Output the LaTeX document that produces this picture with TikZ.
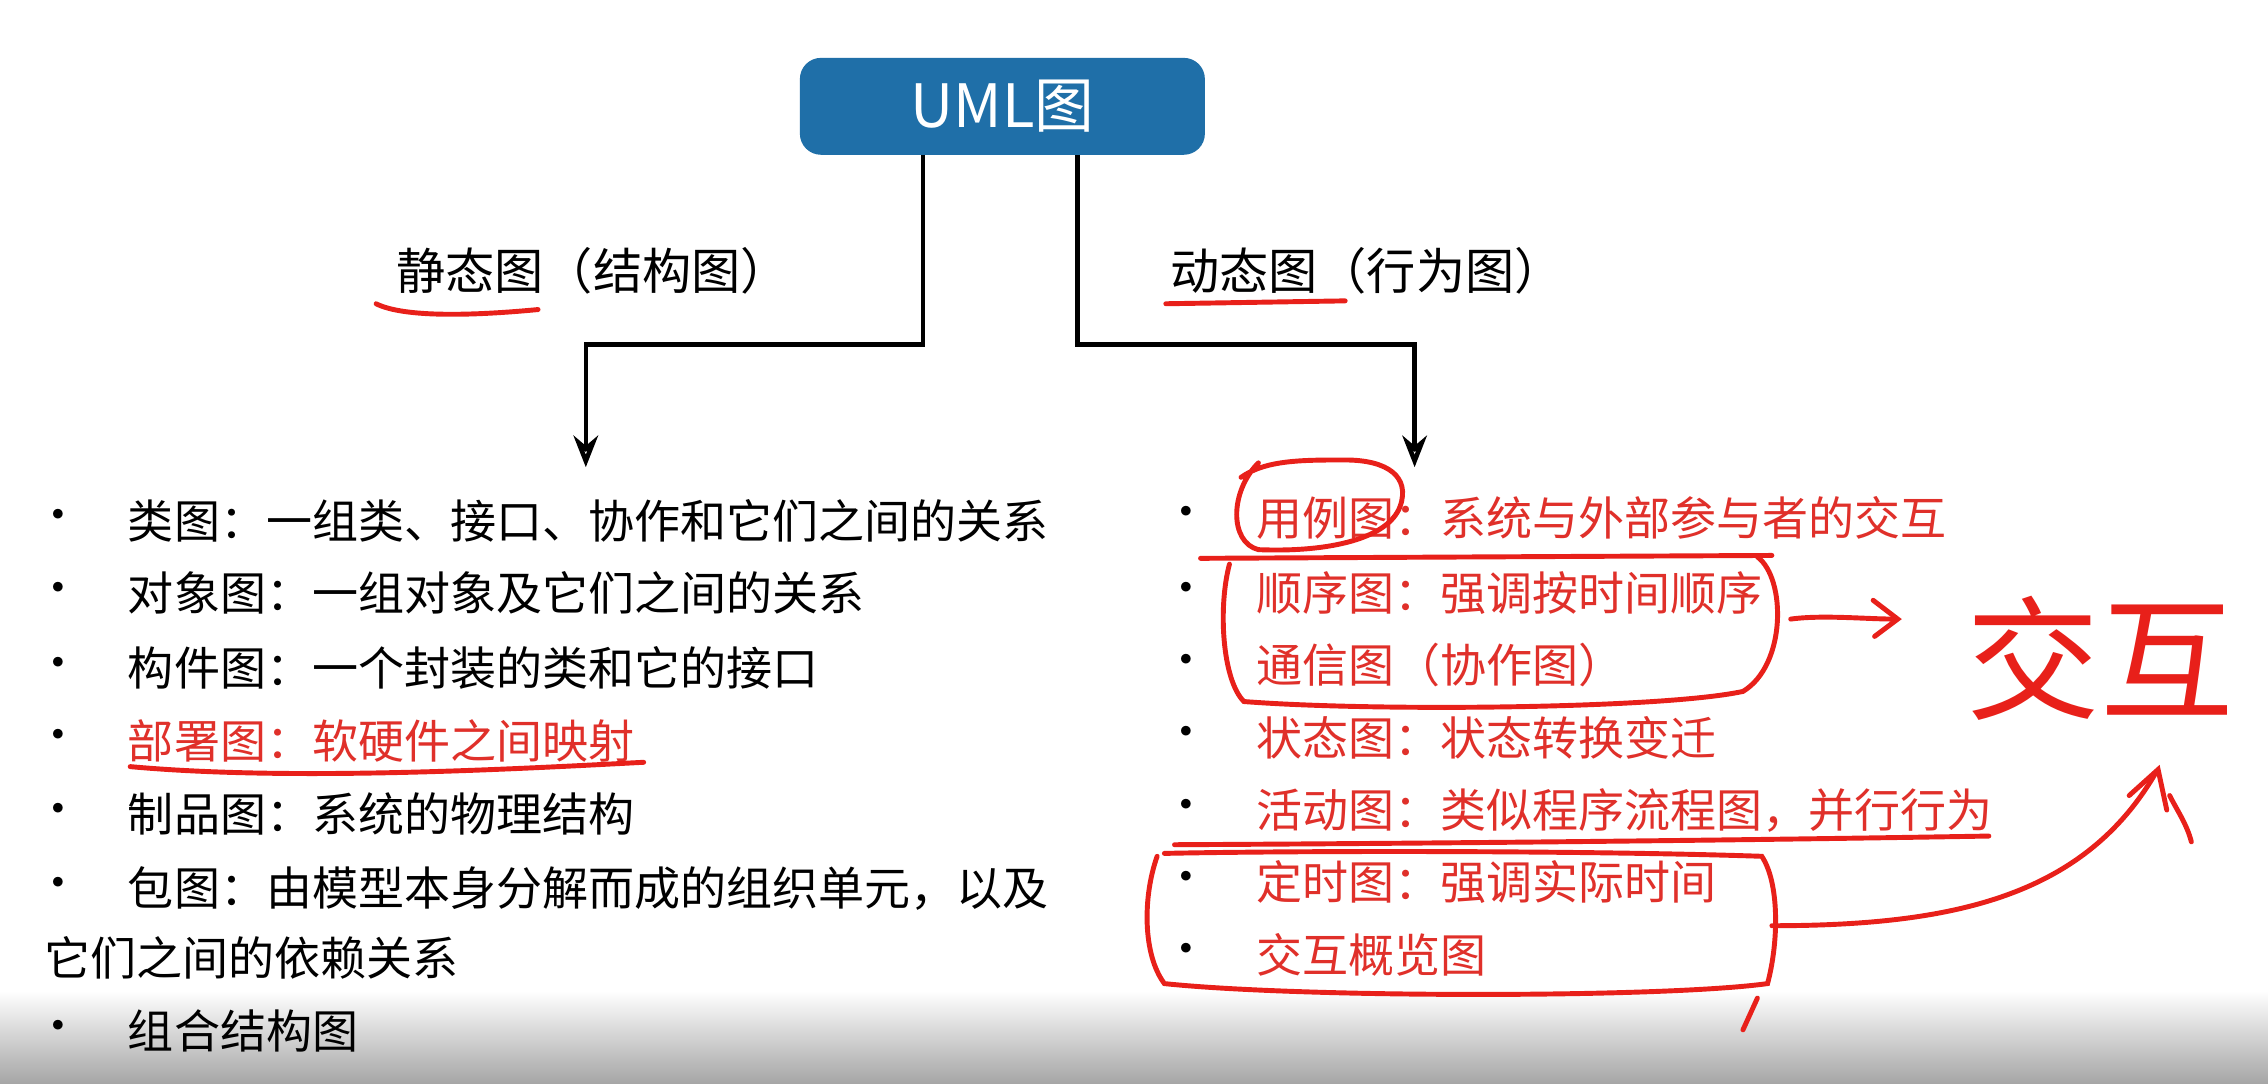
\documentclass[tikz,border=0pt]{standalone}
\usepackage{fontspec}
\setmainfont{Noto Sans CJK SC}
\usetikzlibrary{arrows.meta}
\definecolor{umlblue}{HTML}{1F6FA8}
\definecolor{annred}{HTML}{E8201A}
\definecolor{txtred}{HTML}{E0302A}
\tikzset{
  item/.style={anchor=west,font=\fontsize{13.1pt}{16pt}\selectfont,inner sep=0pt},
  bul/.style={anchor=center,font=\fontsize{13pt}{16pt}\selectfont,inner sep=0pt},
  head/.style={font=\fontsize{14pt}{16pt}\selectfont,inner sep=0pt},
  conn/.style={line width=1.3pt},
  ann/.style={annred,line width=1.4pt,line cap=round}
}
\begin{document}
\begin{tikzpicture}[x=0.014464cm,y=-0.014464cm]
\useasboundingbox (0,0) rectangle (1568,749);
\fill[white] (0,0) rectangle (1568,749);
\shade[top color=white,bottom color=black!35] (0,685) rectangle (1568,749);
\node[fill=umlblue,rounded corners=6pt,minimum width=280*0.014464cm,minimum height=67*0.014464cm,text=white,font=\fontsize{17pt}{20pt}\selectfont] (uml) at (693,73.5) {UML图};
\coordinate (l1) at (638,107); \coordinate (l2) at (638,238); \coordinate (l3) at (405,238); \coordinate (la) at (405,323);
\coordinate (r1) at (745,107); \coordinate (r2) at (745,238); \coordinate (r3) at (978,238); \coordinate (ra) at (978,323);
\draw[conn,-{Stealth[length=9pt,width=7pt,open]}] (l1)--(l2)--(l3)--(la);
\draw[conn,-{Stealth[length=9pt,width=7pt,open]}] (r1)--(r2)--(r3)--(ra);
\node[head] (st) at (410,187) {静态图（结构图）};
\node[head] (dy) at (945,187) {动态图（行为图）};
% left list
\foreach \y/\t/\c in {360/类图：一组类、接口、协作和它们之间的关系/black,410/对象图：一组对象及它们之间的关系/black,462/构件图：一个封装的类和它的接口/black,512/部署图：软硬件之间映射/txtred,563/制品图：系统的物理结构/black,614/包图：由模型本身分解而成的组织单元，以及/black}{
  \node[bul] at (40,\y) {•};
  \node[item,text=\c] at (88,\y) {\t};
}
\node[item] (lc) at (30,662) {它们之间的依赖关系};
\node[bul] at (40,713) {•};
\node[item] (ld) at (88,713) {组合结构图};
% right list
\foreach \y/\t in {358/用例图：系统与外部参与者的交互,410/顺序图：强调按时间顺序,460/通信图（协作图）,510/状态图：状态转换变迁,560/活动图：类似程序流程图，并行行为,610/定时图：强调实际时间,660/交互概览图}{
  \node[bul] at (820,\y) {•};
  \node[item,text=txtred] at (868,\y) {\t};
}
% annotations
\draw[ann] (260,210) .. controls (280,220) and (330,218) .. (372,214);
\draw[ann] (806,210) -- (930,208);
\draw[ann] (90,530) .. controls (200,540) and (350,532) .. (445,527);
\draw[ann] (870,320) .. controls (850,340) and (850,375) .. (870,380) .. controls (920,382) and (960,372) .. (968,350) .. controls (975,330) and (960,318) .. (930,318) .. controls (900,318) and (875,318) .. (858,330);
\draw[ann] (830,386) -- (1225,384);
\draw[ann] (850,390) .. controls (842,420) and (845,470) .. (860,485) .. controls (950,492) and (1150,490) .. (1205,478) .. controls (1235,460) and (1235,400) .. (1215,385);
\draw[ann] (1238,428) .. controls (1260,425) and (1290,428) .. (1310,428);
\draw[ann] (1295,415) -- (1312,428) -- (1296,440);
\draw[ann] (812,584) .. controls (1000,583) and (1200,581) .. (1375,578);
\draw[ann] (800,592) .. controls (790,620) and (790,660) .. (805,680) .. controls (900,690) and (1150,690) .. (1222,680) .. controls (1230,650) and (1230,610) .. (1218,592) .. controls (1100,588) and (900,588) .. (805,590);
\draw[ann] (1215,690) -- (1205,712);
\draw[ann] (1225,640) .. controls (1350,640) and (1440,620) .. (1490,535);
\draw[ann] (1472,550) -- (1492,532) -- (1498,560);
\draw[ann] (1500,550) .. controls (1505,560) and (1512,570) .. (1515,582);
\node[text=annred,font=\fontsize{38pt}{40pt}\selectfont] (jh) at (1452,455) {交互};
\end{tikzpicture}
\end{document}
